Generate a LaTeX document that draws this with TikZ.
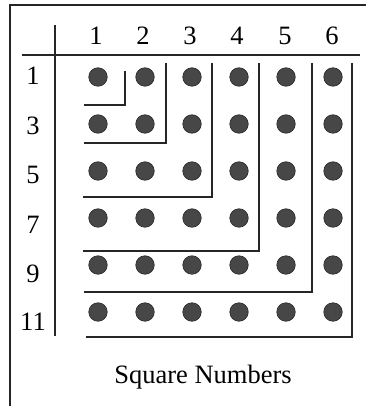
\documentclass[tikz,border=0pt]{standalone}
\usepackage{fontspec}
\setmainfont{Liberation Serif}
\begin{document}
\begin{tikzpicture}[x=1pt,y=-1pt,
  dot/.style={circle,fill=black!72,draw=black!85,line width=0.6pt,minimum size=18.5pt,inner sep=0pt},
  lbl/.style={font=\fontsize{26.5}{26.5}\selectfont,anchor=base,inner sep=0pt},
  frame/.style={line width=2.4pt,black!85},
  rule/.style={line width=1.4pt,black!85},
  ell/.style={line width=2pt,black!85}]
\useasboundingbox (0,0) rectangle (366,406);
% frame
\draw[frame] (10,406) -- (10,5) -- (366,5);
% header rules
\draw[rule] (22,55) -- (360,55);
\draw[rule] (55,25) -- (55,336);
% column headers
\foreach \i/\x in {1/96,2/143,3/190,4/237,5/285,6/332}
  \node[lbl] (c\i) at (\x,45) {\i};
% row labels
\foreach \n/\y [count=\k] in {1/85,3/135,5/183,7/233,9/282,11/330}
  \node[lbl] (r\k) at (33,\y) {\n};
% dots
\foreach \x [count=\i] in {98,145,192,239,286,333}
  \foreach \y [count=\j] in {77,124,171,218,265,312}
    \node[dot] (d\i\j) at (\x,\y) {};
% L-shapes
\draw[ell] (125,71) -- (125,105) -- (84,105);
\draw[ell] (166,63) -- (166,143) -- (84,143);
\draw[ell] (212,63) -- (212,197) -- (83,197);
\draw[ell] (259,63) -- (259,251) -- (83,251);
\draw[ell] (312,63) -- (312,292) -- (84,292);
\draw[ell] (352,63) -- (352,337) -- (86,337);
% caption
\node[lbl] (cap) at (203,383) {Square Numbers};
\end{tikzpicture}
\end{document}
